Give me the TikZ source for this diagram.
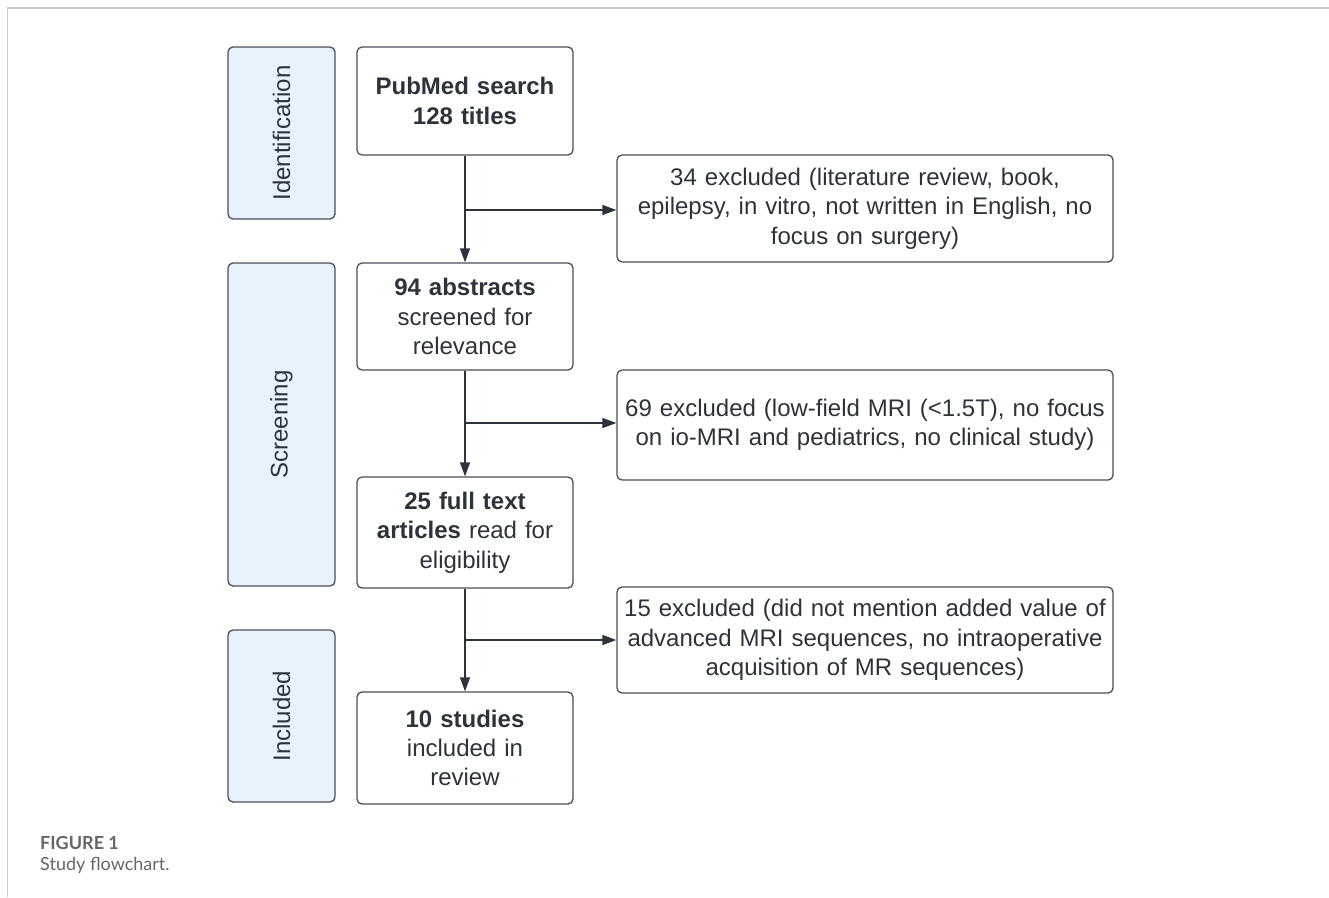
\documentclass[tikz,border=0pt]{standalone}
\usepackage{fontspec}
\setmainfont{Liberation Sans}
\newfontfamily\capfont{Lato}
\usetikzlibrary{arrows.meta}
\definecolor{txt}{HTML}{2D333B}
\definecolor{edge}{HTML}{4A4F57}
\definecolor{sidefill}{HTML}{E8F2FC}
\definecolor{frame}{HTML}{CCCCCC}
\definecolor{capgray}{HTML}{666666}
\tikzset{
  x=1pt,y=-1pt,
  box/.style={draw=edge,line width=1.3pt,rounded corners=5pt,fill=white,
    align=center,text=txt,inner sep=0pt,
    font=\fontsize{24}{29.3}\selectfont},
  side/.style={draw=edge,line width=1.3pt,rounded corners=5pt,fill=sidefill,
    text=txt,inner sep=0pt,minimum width=107pt,
    font=\fontsize{24}{29.3}\selectfont},
  mainbox/.style={box,minimum width=216pt,text width=210pt},
  exbox/.style={box,minimum width=496pt,text width=490pt},
  conn/.style={draw=txt,line width=1.3pt},
  arr/.style={conn,-{Triangle[length=14pt,width=10pt]}},
}
\begin{document}
\begin{tikzpicture}
\useasboundingbox (0,0) rectangle (1329,897);
\draw[frame,line width=1.2pt] (7.5,897) -- (7.5,8) -- (1329,8);

\node[side,minimum height=172pt] (ident) at (281.5,133) {};
\node[rotate=90,text=txt,font=\fontsize{24}{29.3}\selectfont] (identt) at (ident.center) {Identification};
\node[side,minimum height=323pt] (screen) at (281.5,424.5) {};
\node[rotate=90,text=txt,font=\fontsize{24}{29.3}\selectfont] (screent) at (screen.center) {Screening};
\node[side,minimum height=172pt] (incl) at (281.5,716) {};
\node[rotate=90,text=txt,font=\fontsize{24}{29.3}\selectfont] (inclt) at (incl.center) {Included};

\node[mainbox,minimum height=108pt] (pub) at (465,101) {\textbf{PubMed search}\\\textbf{128 titles}};
\node[mainbox,minimum height=107pt] (abs) at (465,316.5) {\textbf{94 abstracts}\\screened for\\relevance};
\node[mainbox,minimum height=111pt] (full) at (465,532.5) {\textbf{25 full text}\\\textbf{articles} read for\\eligibility};
\node[mainbox,minimum height=112pt] (stud) at (465,748) {\textbf{10 studies}\\included in\\review};

\node[exbox,minimum height=107pt] (ex1) at (865,208.5) {34 excluded (literature review, book,\\epilepsy, in vitro, not written in English, no\\focus on surgery)};
\node[exbox,minimum height=110pt] (ex2) at (865,425) {69 excluded (low-field MRI (<1.5T), no focus\\on io-MRI and pediatrics, no clinical study)};
\node[exbox,minimum height=106pt] (ex3) at (865,640) {15 excluded (did not mention added value of\\advanced MRI sequences, no intraoperative\\acquisition of MR sequences)};

\coordinate (b1) at (465,210);
\coordinate (b2) at (465,423);
\coordinate (b3) at (465,640);

\draw[arr] (pub.south) -- (abs.north);
\draw[arr] (abs.south) -- (full.north);
\draw[arr] (full.south) -- (stud.north);
\draw[arr] (b1) -- (b1 -| ex1.west);
\draw[arr] (b2) -- (b2 -| ex2.west);
\draw[arr] (b3) -- (b3 -| ex3.west);

\node[anchor=base west,inner sep=0pt,text=capgray,font=\capfont\fontsize{18}{22}\selectfont\bfseries] (figl) at (40,849) {FIGURE 1};
\node[anchor=base west,inner sep=0pt,text=capgray,font=\capfont\fontsize{18}{22}\selectfont] (figc) at (40,870) {Study flowchart.};
\end{tikzpicture}
\end{document}
